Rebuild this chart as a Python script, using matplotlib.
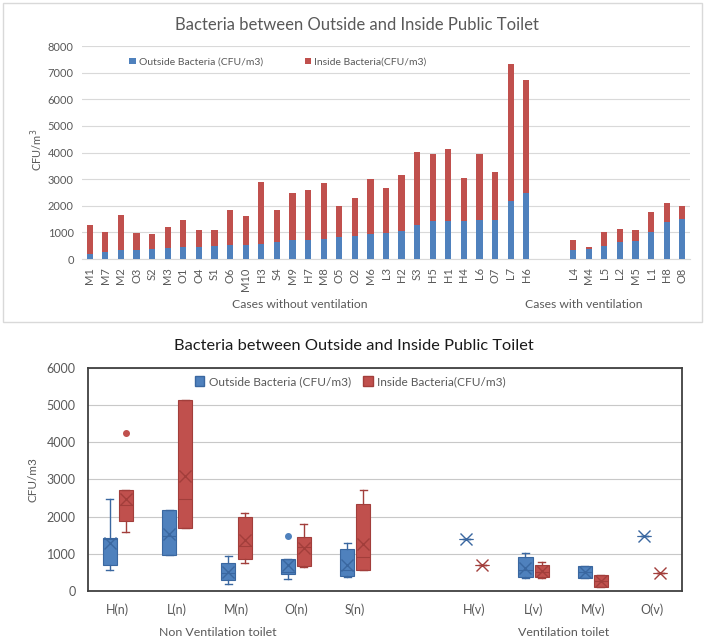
import numpy as np
import matplotlib
matplotlib.use('Agg')
import matplotlib.pyplot as plt
from matplotlib.patches import Rectangle, Patch

plt.rcParams['font.family'] = ['Lato', 'DejaVu Sans']

# Cases without ventilation (bar order as in the chart)
cases_nv = ['M1', 'M7', 'M2', 'O3', 'S2', 'M3', 'O1', 'O4', 'S1', 'O6', 'M10', 'H3', 'S4', 'M9',
            'H7', 'M8', 'O5', 'O2', 'M6', 'L3', 'H2', 'S3', 'H5', 'H1', 'H4', 'L6', 'O7', 'L7', 'H6']
outside_nv = [180, 270, 330, 330, 380, 430, 455, 465, 500, 515, 520, 570, 630, 705,
              710, 770, 810, 855, 950, 960, 1050, 1290, 1410, 1415, 1430, 1480, 1480, 2190, 2475]
inside_nv = [1090, 740, 1340, 660, 560, 770, 1005, 635, 600, 1335, 1100, 2310, 1220, 1785,
             1870, 2090, 1185, 1445, 2070, 1690, 2090, 2715, 2520, 2730, 1600, 2480, 1795, 5140, 4245]

# Cases with ventilation
cases_v = ['L4', 'M4', 'L5', 'L2', 'M5', 'L1', 'H8', 'O8']
outside_v = [350, 360, 490, 625, 675, 1010, 1405, 1485]
inside_v = [350, 105, 515, 490, 420, 770, 710, 495]

groups_nv = ['H', 'L', 'M', 'O', 'S']
groups_v = ['H', 'L', 'M', 'O']

blue, blue_dk = '#4F81BD', '#3A67A0'
red, red_dk = '#C0504D', '#A23E3B'
grey = '#595959'
grid_c = '#D9D9D9'


def box_stats(values):
    # quartiles like Excel's exclusive method
    v = np.sort(np.asarray(values, dtype=float))
    q1, med, q3 = np.percentile(v, [25, 50, 75], method='weibull')
    iqr = q3 - q1
    ok = (v >= q1 - 1.5 * iqr) & (v <= q3 + 1.5 * iqr)
    return dict(q1=q1, med=med, q3=q3, whislo=v[ok].min(), whishi=v[ok].max(),
                mean=v.mean(), fliers=v[~ok])


def by_group(cases, values, g):
    return [val for c, val in zip(cases, values) if c[0] == g]


fig = plt.figure(figsize=(7.08, 6.4), dpi=100)

# ---------- top: stacked bars ----------
fig.patches.append(Rectangle((3 / 708, 1 - 322 / 640), 699 / 708, 319 / 640, transform=fig.transFigure,
                             fill=False, edgecolor=grid_c, lw=1))
ax1 = fig.add_axes([0.1158, 0.5953, 0.8588, 0.3328])
x_nv = np.arange(len(cases_nv))
x_v = np.arange(len(cases_v)) + len(cases_nv) + 2
xs = np.concatenate([x_nv, x_v])
out_all = np.array(outside_nv + outside_v)
in_all = np.array(inside_nv + inside_v)
ax1.bar(xs, out_all, width=0.4, color=blue, label='Outside Bacteria (CFU/m3)', zorder=3)
ax1.bar(xs, in_all, bottom=out_all, width=0.4, color=red, label='Inside Bacteria(CFU/m3)', zorder=3)
ax1.set_xlim(-0.5, xs[-1] + 0.5)
ax1.set_ylim(0, 8000)
ax1.set_yticks(range(0, 8001, 1000))
ax1.set_xticks(xs)
ax1.set_xticklabels(cases_nv + cases_v, rotation=90)
ax1.tick_params(length=0, labelsize=8, labelcolor=grey, pad=6)
ax1.grid(axis='y', color=grid_c, lw=0.8, zorder=0)
for s in ['top', 'right', 'left']:
    ax1.spines[s].set_visible(False)
ax1.spines['bottom'].set_color(grid_c)
fig.text(357 / 708, 1 - 25 / 640, 'Bacteria between Outside and Inside Public Toilet',
         ha='center', va='center', fontsize=12, color=grey)
fig.text(37 / 708, 1 - 150 / 640, 'CFU/m$^3$', rotation=90, ha='center', va='center', fontsize=8, color=grey)
fig.text(300 / 708, 1 - 305 / 640, 'Cases without ventilation', ha='center', va='center', fontsize=8.7, color=grey)
fig.text(584 / 708, 1 - 305 / 640, 'Cases with ventilation', ha='center', va='center', fontsize=8.7, color=grey)
fig.legend(*ax1.get_legend_handles_labels(), loc='center left', bbox_to_anchor=(120 / 708, 1 - 62 / 640),
           ncol=2, frameon=False, fontsize=7.5, labelcolor=grey, handlelength=0.6, handleheight=0.6,
           handletextpad=0.3, columnspacing=4.0)

# ---------- bottom: box plots ----------
ax2 = fig.add_axes([0.1243, 0.0766, 0.839, 0.3484])
pos_nv = np.arange(len(groups_nv))
pos_v = np.arange(len(groups_v)) + len(groups_nv) + 1
pos = np.concatenate([pos_nv, pos_v])
off, w = 0.135, 0.236

stats_out = [box_stats(by_group(cases_nv, outside_nv, g)) for g in groups_nv] + \
            [box_stats(by_group(cases_v, outside_v, g)) for g in groups_v]
stats_in = [box_stats(by_group(cases_nv, inside_nv, g)) for g in groups_nv] + \
           [box_stats(by_group(cases_v, inside_v, g)) for g in groups_v]

for st, p, fc, ec in [(stats_out, pos - off, blue, blue_dk), (stats_in, pos + off, red, red_dk)]:
    ax2.bxp(st, positions=p, widths=w, capwidths=0.12, patch_artist=True, showmeans=True,
            manage_ticks=False,
            boxprops=dict(facecolor=fc, edgecolor=ec, lw=0.8),
            medianprops=dict(color=ec, lw=0.8),
            meanprops=dict(marker='x', markeredgecolor=ec, markersize=9, markeredgewidth=1),
            whiskerprops=dict(color=ec, lw=1),
            capprops=dict(color=ec, lw=1),
            flierprops=dict(marker='o', markerfacecolor=fc, markeredgecolor=fc, markersize=4),
            zorder=3)

ax2.set_xlim(-0.5, pos[-1] + 0.5)
ax2.set_ylim(0, 6000)
ax2.set_yticks(range(0, 6001, 1000))
ax2.set_xticks(pos)
ax2.set_xticklabels([g + '(n)' for g in groups_nv] + [g + '(v)' for g in groups_v])
ax2.tick_params(length=0, labelsize=9, labelcolor=grey, pad=9)
ax2.grid(axis='y', color='#C8C8C8', lw=0.8, zorder=0)
for s in ax2.spines.values():
    s.set_color('#404040')
    s.set_linewidth(1.3)
fig.text(354 / 708, 1 - 346 / 640, 'Bacteria between Outside and Inside Public Toilet',
         ha='center', va='center', fontsize=11.8, color='#1A1A1A')
fig.text(33 / 708, 1 - 480 / 640, 'CFU/m3', rotation=90, ha='center', va='center', fontsize=8.5, color=grey)
fig.text(218 / 708, 1 - 633 / 640, 'Non Ventilation toilet', ha='center', va='center', fontsize=8.9, color=grey)
fig.text(564 / 708, 1 - 633 / 640, 'Ventilation toilet', ha='center', va='center', fontsize=8.9, color=grey)
fig.legend(handles=[Patch(facecolor=blue, edgecolor=blue_dk), Patch(facecolor=red, edgecolor=red_dk)],
           labels=['Outside Bacteria (CFU/m3)', 'Inside Bacteria(CFU/m3)'],
           loc='center left', bbox_to_anchor=(184 / 708, 1 - 382 / 640), ncol=2, frameon=False,
           fontsize=8.6, labelcolor=grey, handlelength=0.8, handleheight=0.9, handletextpad=0.4,
           columnspacing=1.0)

fig.savefig('out.png', dpi=100)
